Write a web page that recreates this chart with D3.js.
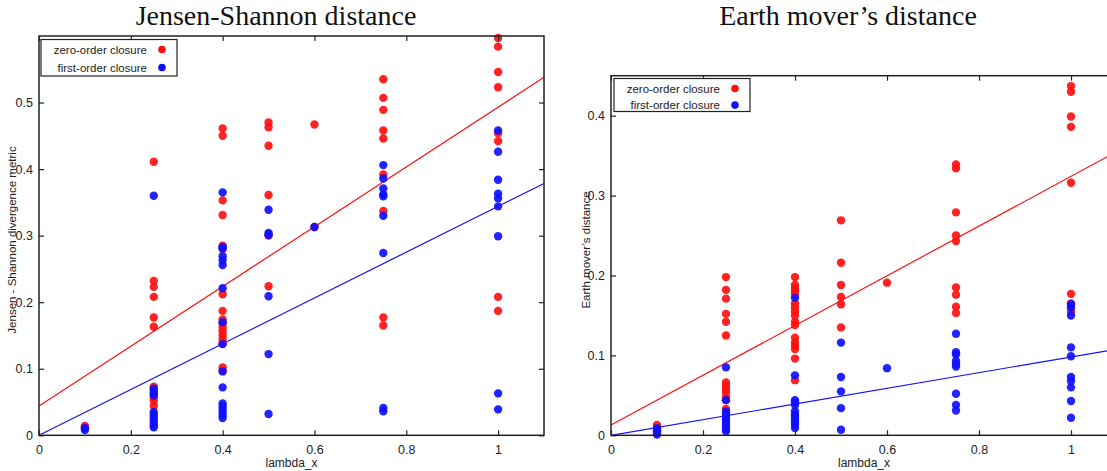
<!DOCTYPE html>
<html>
<head>
<meta charset="utf-8">
<script src="https://cdn.jsdelivr.net/npm/d3@7"></script>
<style>
    body { margin: 0; background: #fff; }
    text { font-family: "Liberation Sans", Arial, sans-serif; fill: #222; }
    .title { font-family: "Liberation Serif", "DejaVu Serif", serif; font-size: 28px; fill: #111; }
</style>
</head>
<body>
<div id="chart-area"></div>
<script>
/*
*    Two scatter panels: closure error vs lambda_x
*/

// lambda_x values (one column of points per value)
var lambdas = [0.1, 0.25, 0.4, 0.5, 0.6, 0.75, 1];

var xTicks = [0, 0.2, 0.4, 0.6, 0.8, 1];
var jsTicks = [0, 0.1, 0.2, 0.3, 0.4, 0.5];
var emdTicks = [0, 0.1, 0.2, 0.3, 0.4];

// Jensen-Shannon, zero-order closure (one list per lambda)
var jsZero = [
    [0.014, 0.011],
    [0.411, 0.232, 0.223, 0.208, 0.177, 0.163, 0.073, 0.068, 0.062, 0.057, 0.052, 0.044],
    [0.461, 0.450, 0.353, 0.331, 0.285, 0.280, 0.212, 0.187, 0.174, 0.168, 0.162, 0.156, 0.150, 0.144, 0.138, 0.102, 0.097],
    [0.470, 0.463, 0.435, 0.361, 0.300, 0.224],
    [0.467, 0.313],
    [0.535, 0.507, 0.489, 0.458, 0.446, 0.392, 0.337, 0.177, 0.165],
    [0.597, 0.584, 0.546, 0.523, 0.454, 0.442, 0.208, 0.187]
];

// Jensen-Shannon, first-order closure
var jsFirst = [
    [0.011, 0.008],
    [0.360, 0.070, 0.065, 0.060, 0.035, 0.031, 0.027, 0.023, 0.019, 0.015, 0.012],
    [0.365, 0.283, 0.281, 0.269, 0.263, 0.256, 0.221, 0.170, 0.137, 0.096, 0.072, 0.048, 0.044, 0.040, 0.035, 0.030, 0.026],
    [0.339, 0.304, 0.301, 0.209, 0.122, 0.032],
    [0.313],
    [0.406, 0.386, 0.371, 0.362, 0.359, 0.330, 0.274, 0.041, 0.036],
    [0.458, 0.426, 0.384, 0.363, 0.356, 0.344, 0.299, 0.063, 0.039]
];

// Earth mover's, zero-order closure
var emdZero = [
    [0.013, 0.009],
    [0.198, 0.182, 0.171, 0.152, 0.142, 0.125, 0.066, 0.062, 0.058, 0.054, 0.048, 0.044, 0.033],
    [0.198, 0.188, 0.184, 0.180, 0.176, 0.165, 0.160, 0.155, 0.150, 0.142, 0.138, 0.122, 0.116, 0.112, 0.108, 0.096, 0.069],
    [0.269, 0.216, 0.188, 0.173, 0.164, 0.135],
    [0.191],
    [0.339, 0.334, 0.279, 0.250, 0.243, 0.185, 0.176, 0.161, 0.153],
    [0.437, 0.430, 0.399, 0.386, 0.316, 0.177, 0.165, 0.155]
];

// Earth mover's, first-order closure
var emdFirst = [
    [0.009, 0.007, 0.005, 0.003, 0.001],
    [0.085, 0.044, 0.030, 0.027, 0.024, 0.020, 0.017, 0.014, 0.011, 0.008, 0.005],
    [0.172, 0.075, 0.044, 0.041, 0.038, 0.030, 0.026, 0.023, 0.020, 0.016, 0.013, 0.009],
    [0.116, 0.073, 0.055, 0.034, 0.007],
    [0.084],
    [0.127, 0.104, 0.101, 0.093, 0.089, 0.086, 0.052, 0.038, 0.031],
    [0.164, 0.160, 0.150, 0.110, 0.099, 0.073, 0.068, 0.060, 0.043, 0.022]
];

// linear fits [intercept, slope]
var jsZeroFit = [0.044, 0.449];
var jsFirstFit = [0.0, 0.344];
var emdZeroFit = [0.013, 0.311];
var emdFirstFit = [0.0, 0.098];

var seriesNames = ["zero-order closure", "first-order closure"];
var colors = ["#ff1010", "#1010ff"];

var svg = d3.select("#chart-area")
    .append("svg")
    .attr("width", 1107)
    .attr("height", 471);

function flatten(cols) {
    var out = [];
    cols.forEach(function(col, i){
        col.forEach(function(v){ out.push({ x: lambdas[i], y: v }); });
    });
    return out;
}

function drawPanel(p) {
    var x = d3.scaleLinear().domain([0, 1.1]).range([p.left, p.right]);
    var y = d3.scaleLinear().domain([0, p.yMax]).range([p.bottom, p.top]);

    var g = svg.append("g");

    // Title
    g.append("text")
        .attr("class", "title")
        .attr("x", p.titleX)
        .attr("y", 25)
        .attr("text-anchor", "middle")
        .text(p.title);

    // Fit lines
    [p.zeroFit, p.firstFit].forEach(function(f, i){
        g.append("line")
            .attr("x1", x(0)).attr("y1", y(f[0]))
            .attr("x2", x(1.1)).attr("y2", y(f[0] + f[1] * 1.1))
            .attr("stroke", colors[i])
            .attr("stroke-width", 1.2);
    });

    // Points (blue on top)
    [p.zero, p.first].forEach(function(cols, i){
        g.selectAll(null)
            .data(flatten(cols))
            .enter()
            .append("circle")
            .attr("cx", function(d){ return x(d.x); })
            .attr("cy", function(d){ return y(d.y); })
            .attr("r", 4.2)
            .attr("fill", colors[i])
            .attr("opacity", 0.92);
    });

    // Axes: ticks inside, mirrored on all four sides
    var tl = 5;
    g.append("g")
        .attr("transform", "translate(0," + p.bottom + ")")
        .call(d3.axisBottom(x).tickValues(xTicks).tickSize(-tl).tickPadding(10)
            .tickFormat(function(d){ return +d; }));
    g.append("g")
        .attr("transform", "translate(0," + p.top + ")")
        .call(d3.axisTop(x).tickValues(xTicks).tickSize(-tl).tickFormat(""));
    g.append("g")
        .attr("transform", "translate(" + p.left + ",0)")
        .call(d3.axisLeft(y).tickValues(p.yTicks).tickSize(-tl).tickPadding(6)
            .tickFormat(function(d){ return +d; }));
    g.append("g")
        .attr("transform", "translate(" + p.right + ",0)")
        .call(d3.axisRight(y).tickValues(p.yTicks).tickSize(-tl).tickFormat(""));

    g.selectAll(".domain").remove();
    g.selectAll(".tick line").attr("stroke", "#222").attr("stroke-width", 1.2);
    g.selectAll(".tick text")
        .attr("font-family", "Liberation Sans, Arial, sans-serif")
        .attr("font-size", "12.5px")
        .attr("fill", "#222");

    // Frame
    g.append("rect")
        .attr("x", p.left).attr("y", p.top)
        .attr("width", p.right - p.left).attr("height", p.bottom - p.top)
        .attr("fill", "none")
        .attr("stroke", "#222")
        .attr("stroke-width", 1.5);

    // X Label
    g.append("text")
        .attr("x", (p.left + p.right) / 2)
        .attr("y", 467)
        .attr("font-size", "12px")
        .attr("text-anchor", "middle")
        .text("lambda_x");

    // Y Label
    g.append("text")
        .attr("transform", "rotate(-90)")
        .attr("x", -p.yLabelY)
        .attr("y", p.yLabelX)
        .attr("font-size", "11.5px")
        .attr("text-anchor", "middle")
        .text(p.yLabel);

    // Legend
    var lg = g.append("g");
    lg.append("rect")
        .attr("x", p.leg[0]).attr("y", p.leg[1])
        .attr("width", p.leg[2]).attr("height", p.leg[3])
        .attr("fill", "#fff")
        .attr("stroke", "#222")
        .attr("stroke-width", 1.2);
    seriesNames.forEach(function(name, i){
        var ry = p.leg[1] + 10 + i * p.legStep;
        lg.append("text")
            .attr("x", p.leg[0] + p.leg[2] - 30)
            .attr("y", ry + 4)
            .attr("font-size", "11.5px")
            .attr("text-anchor", "end")
            .text(name);
        lg.append("circle")
            .attr("cx", p.leg[0] + p.leg[2] - 15)
            .attr("cy", ry)
            .attr("r", 3.8)
            .attr("fill", colors[i]);
    });
}

drawPanel({
    title: "Jensen-Shannon distance", titleX: 276,
    left: 39, right: 544, top: 36, bottom: 435.3, yMax: 0.6,
    yTicks: jsTicks,
    zero: jsZero, first: jsFirst, zeroFit: jsZeroFit, firstFit: jsFirstFit,
    yLabel: "Jensen - Shannon divergence metric", yLabelX: 16, yLabelY: 240,
    leg: [41, 39.5, 136, 36.5], legStep: 18
});

drawPanel({
    title: "Earth mover\u2019s distance", titleX: 848,
    left: 611, right: 1117, top: 75.7, bottom: 435.3, yMax: 0.45,
    yTicks: emdTicks,
    zero: emdZero, first: emdFirst, zeroFit: emdZeroFit, firstFit: emdFirstFit,
    yLabel: "Earth mover\u2019s distance", yLabelX: 590, yLabelY: 250,
    leg: [614, 78.5, 136, 33], legStep: 16.6
});
</script>
</body>
</html>
